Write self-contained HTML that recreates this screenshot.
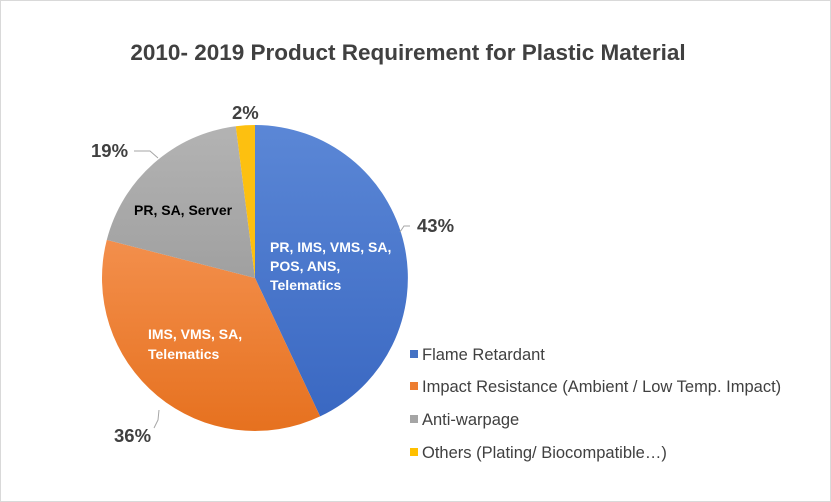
<!DOCTYPE html>
<html><head><style>
body{margin:0;background:#fff;}
svg{display:block;font-family:"Liberation Sans",Calibri,sans-serif;}
</style></head><body>
<svg width="831" height="502" viewBox="0 0 831 502">
<defs>
<linearGradient id="gb" x1="0" y1="0" x2="0" y2="1"><stop offset="0" stop-color="#5b87d6"/><stop offset="1" stop-color="#3a68c2"/></linearGradient>
<linearGradient id="go" x1="0" y1="0" x2="0" y2="1"><stop offset="0" stop-color="#f38f4c"/><stop offset="1" stop-color="#e6711f"/></linearGradient>
<linearGradient id="gg" x1="0" y1="0" x2="0" y2="1"><stop offset="0" stop-color="#b3b3b3"/><stop offset="1" stop-color="#a0a0a0"/></linearGradient>
</defs>
<rect x="0.5" y="0.5" width="830" height="501" fill="#fff" stroke="#d9d9d9"/>
<text x="408" y="60" text-anchor="middle" font-size="22.5" font-weight="bold" fill="#404040">2010- 2019 Product Requirement for Plastic Material</text>
<path d="M255,278 L255,125 A153,153 0 0 1 320.1,416.4 Z" fill="url(#gb)"/>
<path d="M255,278 L320.1,416.4 A153,153 0 0 1 106.8,239.9 Z" fill="url(#go)"/>
<path d="M255,278 L106.8,239.9 A153,153 0 0 1 235.8,126.2 Z" fill="url(#gg)"/>
<path d="M255,278 L235.8,126.2 A153,153 0 0 1 255,125 Z" fill="#fdc010"/>
<g stroke="#a6a6a6" fill="none" stroke-width="1">
<polyline points="410,226 404,226 400,232"/>
<polyline points="134,151 150,151 158,158"/>
<polyline points="154,428 158,420 159,410"/>
</g>
<g font-size="18.5" font-weight="bold" fill="#404040">
<text x="417" y="232">43%</text>
<text x="91" y="157">19%</text>
<text x="232" y="119">2%</text>
<text x="114" y="442">36%</text>
</g>
<g font-size="14" font-weight="bold">
<text x="134" y="215" fill="#000">PR, SA, Server</text>
<g fill="#fff">
<text x="270" y="252">PR, IMS, VMS, SA,</text>
<text x="270" y="271">POS, ANS,</text>
<text x="270" y="290">Telematics</text>
<text x="148" y="339">IMS, VMS, SA,</text>
<text x="148" y="359">Telematics</text>
</g>
</g>
<g font-size="16.5" fill="#404040">
<rect x="410" y="350" width="8" height="8" fill="#4472c4"/><text x="422" y="360">Flame Retardant</text>
<rect x="410" y="382" width="8" height="8" fill="#ed7d31"/><text x="422" y="392">Impact Resistance (Ambient / Low Temp. Impact)</text>
<rect x="410" y="415" width="8" height="8" fill="#a5a5a5"/><text x="422" y="425">Anti-warpage</text>
<rect x="410" y="448" width="8" height="8" fill="#ffc000"/><text x="422" y="458">Others (Plating/ Biocompatible…)</text>
</g>
</svg>
</body></html>
